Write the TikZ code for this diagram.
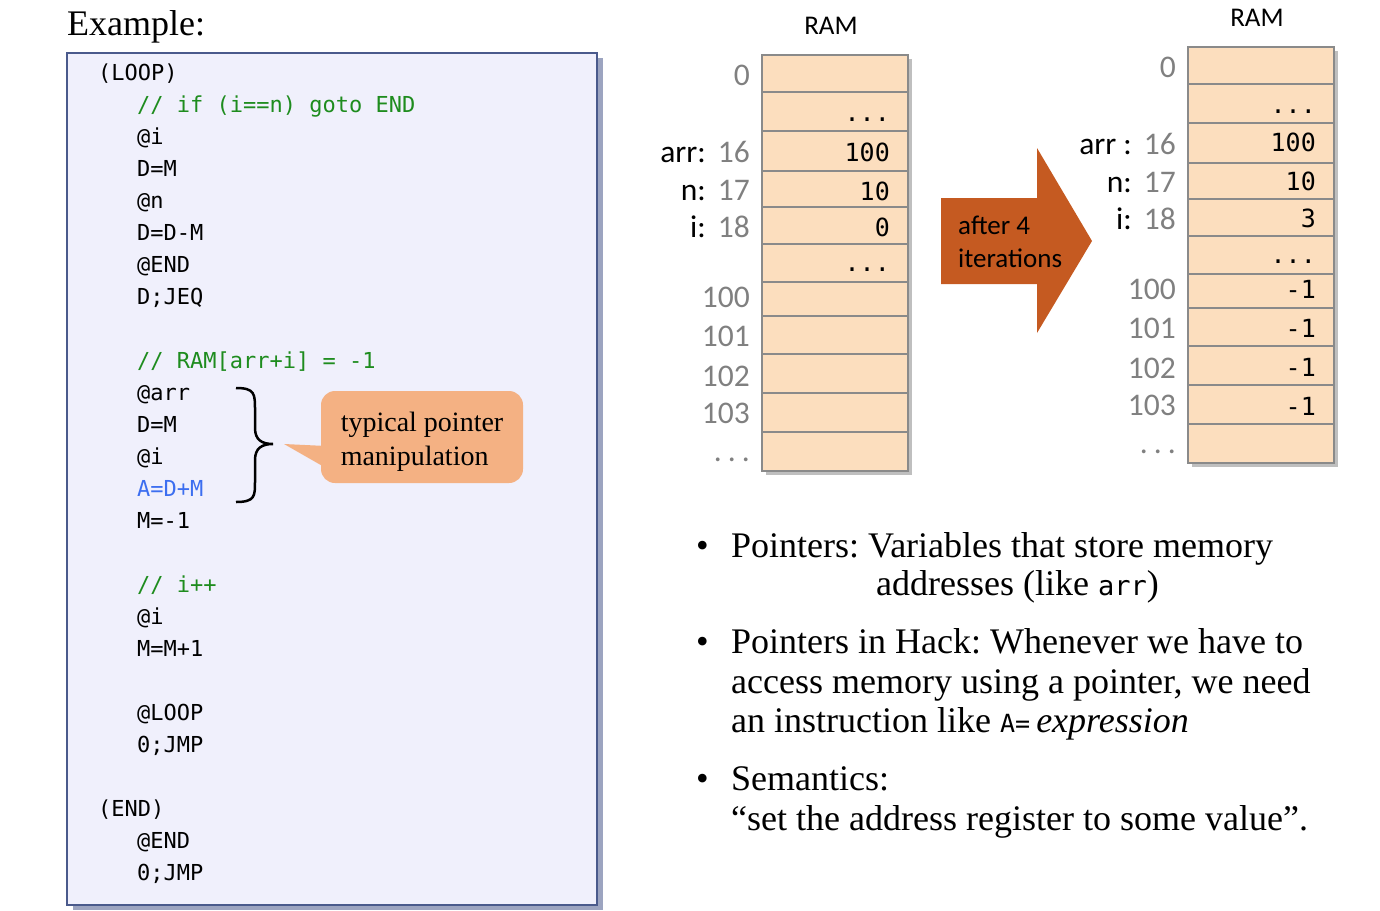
\documentclass[tikz,border=0pt]{standalone}
\usepackage{fontspec}
\setmainfont{Liberation Serif}
\setmonofont{DejaVu Sans Mono}
\newfontfamily\calibri{Carlito}
\usetikzlibrary{shadows}
\definecolor{codebg}{HTML}{F0F0FC}
\definecolor{codeframe}{HTML}{4A5A8C}
\definecolor{cmtgreen}{HTML}{1E8C1E}
\definecolor{ptrblue}{HTML}{3C6EF0}
\definecolor{cellfill}{HTML}{FCDEBE}
\definecolor{cellline}{HTML}{8A8A8A}
\definecolor{addrgray}{HTML}{808080}
\definecolor{arrowbrown}{HTML}{C55A21}
\definecolor{callout}{HTML}{F4B183}
\tikzset{
  code/.style={anchor=base west, inner sep=0pt, font=\fontsize{22}{26}\selectfont\ttfamily},
  comment/.style={code, text=cmtgreen},
  addr/.style={anchor=base east, inner sep=0pt, text=addrgray, font=\fontsize{31.5}{36}\selectfont\calibri},
  val/.style={anchor=base east, inner sep=0pt, font=\fontsize{25}{30}\selectfont\ttfamily},
  ramtitle/.style={inner sep=0pt, font=\fontsize{27}{30}\selectfont\calibri},
  cell/.style={fill=cellfill, draw=cellline, line width=1.2pt},
  slide/.style={anchor=base west, inner sep=0pt, font=\fontsize{36}{40}\selectfont},
}
\newcommand{\var}[2]{{\color{black}#1}\hspace{12pt}#2}
\newcommand{\ramcol}[2]{%
  \node[ramtitle] (#2title) at (831,26) {RAM};
  \fill[black, opacity=0.25] (766,59) rectangle (912,475);
  \foreach \top/\bot in {55/92,92/131,131/171,171/207,207/244,244/282,282/316,316/354,354/393,393/432,432/471}
    \draw[cell] (762,\top) rectangle (908,\bot);
  \foreach \y/\t [count=\k] in {85/0, 162/\var{#1}{16}, 200/\var{n:}{17}, 237/\var{i:}{18}, 307/100, 346/101, 386/102, 423/103, 461/{.\hspace{6pt}.\hspace{6pt}.}}
    \node[addr] (#2addr\k) at (750,\y) {\t};
}
\frenchspacing

\begin{document}
\begin{tikzpicture}[x=1pt, y=-1pt]
  \useasboundingbox (0,0) rectangle (1380,910);
  \node[slide] (example) at (67,35) {Example:};

  % code listing
  \draw[fill=codebg, draw=codeframe, line width=1.5pt,
        drop shadow={shadow xshift=6pt, shadow yshift=-5pt, fill=codeframe, opacity=0.55}]
        (67,53) rectangle (597,905);
  \node[code] (loop) at (98,80) {(LOOP)};
  \node[code] (end) at (98,80+32*23) {(END)};
  \node[comment] (cmt1) at (137,80+32) {// if (i==n) goto END};
  \node[comment] (cmt2) at (137,80+32*9) {// RAM[arr+i] = -1};
  \node[comment] (cmt3) at (137,80+32*16) {// i++};
  \node[code, text=ptrblue] (c13) at (137,80+32*13) {A=D+M};
  \foreach \i/\t in {2/@i, 3/D=M, 4/@n, 5/D=D-M, 6/@END, 7/D;JEQ, 10/@arr, 11/D=M, 12/@i, 14/M=-1, 17/@i, 18/M=M+1, 20/@LOOP, 21/0;JMP, 24/@END, 25/0;JMP}
    \node[code] (c\i) at (137,80+32*\i) {\t};

  % brace and callout
  \draw[line width=2.5pt] (236,388) .. controls (255,388) and (255,394) .. (255,410) -- (255,428)
    .. controls (255,440) and (262,444) .. (273,444) .. controls (262,444) and (255,448) .. (255,460)
    -- (255,482) .. controls (255,496) and (255,502) .. (236,502);
  \fill[callout] (326,446) -- (284,444) -- (326,468) -- cycle;
  \node[fill=callout, rounded corners=14pt, minimum width=202pt, minimum height=92pt] (hint) at (422,437) {};
  \node[align=left, inner sep=0pt, font=\fontsize{28}{34}\selectfont] (hinttext) at ([yshift=-5pt]hint.center) {typical pointer\\manipulation};

  % memory before
  \ramcol{arr:}{a}
  \node[val] (av1) at (890,121) {...};
  \node[val] (av2) at (890,161) {100};
  \node[val] (av3) at (890,200) {10};
  \node[val] (av4) at (890,236) {0};
  \node[val] (av5) at (890,271) {...};

  % after 4 iterations
  \fill[arrowbrown] (941,198) -- (1037,198) -- (1037,148) -- (1092,241) -- (1037,333) -- (1037,284) -- (941,284) -- cycle;
  \node[anchor=west, align=left, inner sep=0pt, font=\fontsize{27}{33}\selectfont\calibri] (iter) at (958,242) {after 4\\iterations};

  % memory after
  \begin{scope}[shift={(426,-8)}]
    \ramcol{arr :}{b}
    \node[val] (bv1) at (890,121) {...};
    \node[val] (bv2) at (890,159) {100};
    \node[val] (bv3) at (890,198) {10};
    \node[val] (bv4) at (890,235) {3};
    \node[val] (bv5) at (890,271) {...};
    \foreach \y [count=\k from 6] in {306,345,384,423}
      \node[val] (bv\k) at (890,\y) {-1};
  \end{scope}

  % bullets
  \foreach \y/\k in {557/1, 653/2, 790/3}
    \node[slide] (dot\k) at (696,\y) {\textbullet};
  \node[slide] (p1) at (731,557) {Pointers: Variables that store memory};
  \node[slide] (p1b) at (876,595) {addresses (like {\fontsize{27}{30}\selectfont\ttfamily arr})};
  \node[slide] (p2) at (731,653) {Pointers in Hack: Whenever we have to};
  \node[slide] (p2b) at (731,693) {access memory using a pointer, we need};
  \node[slide] (p2c) at (731,732) {an instruction like {\fontsize{25}{30}\selectfont\ttfamily A=}\,\textit{expression}};
  \node[slide] (p3) at (731,790) {Semantics:};
  \node[slide] (p3b) at (731,830) {``set the address register to some value''.};
\end{tikzpicture}
\end{document}
